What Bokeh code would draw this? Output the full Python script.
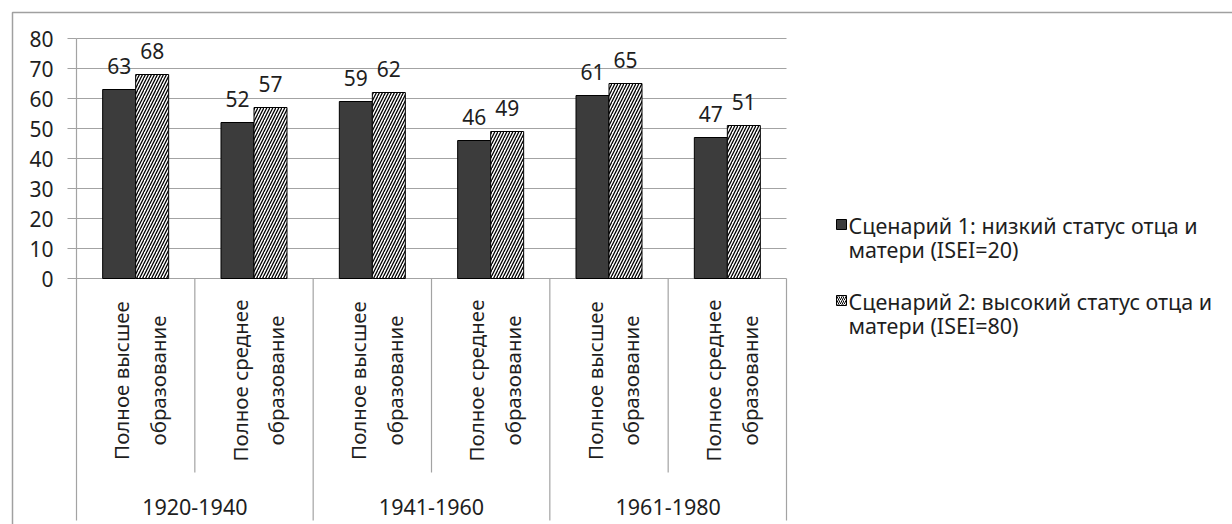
import math
from bokeh.plotting import figure
from bokeh.models import Range1d, LinearAxis, FixedTicker
from bokeh.core.properties import value
from bokeh.embed import file_html
from bokeh.resources import INLINE

# ---------------- data ----------------
groups = ["1920-1940", "1941-1960", "1961-1980"]
education = ["Полное высшее\nобразование", "Полное среднее\nобразование"]
scenario1 = [63, 52, 59, 46, 61, 47]
scenario2 = [68, 57, 62, 49, 65, 51]
series_names = ["Сценарий 1: низкий статус отца и\nматери (ISEI=20)",
                "Сценарий 2: высокий статус отца и\nматери (ISEI=80)"]
y_ticks = [0, 10, 20, 30, 40, 50, 60, 70, 80]

# ---------------- layout (pixels of the page) ----------------
W, H = 1232, 524
PAGE_X0, PAGE_Y0 = 0, 0
AXIS_X = 76          # page x of value axis
PLOT_RIGHT = 786     # page x of right end of plot area
ZERO_Y = 278         # page y of value 0
PX_PER_UNIT = 3.0    # pixels per value unit
n_cat = len(groups) * len(education)
CAT_W = (PLOT_RIGHT - AXIS_X) / n_cat

def dx(px):
    return (px - AXIS_X) / CAT_W

def dy(py):
    return (ZERO_Y - py) / PX_PER_UNIT

FONT = "Noto Sans"
TXT = "#1e1e1e"
GRID = "#a3a3a3"
DARK = "#3c3c3c"

p = figure(width=W, height=H, output_backend="svg", toolbar_location=None,
           x_range=Range1d(dx(PAGE_X0), dx(PAGE_X0 + W)),
           y_range=Range1d(dy(PAGE_Y0 + H), dy(PAGE_Y0)),
           x_axis_location=None, y_axis_location=None,
           min_border=0, outline_line_color=None)
p.xgrid.visible = False
p.ygrid.visible = False
p.background_fill_color = "white"
p.border_fill_color = "white"

# outer chart border (left and top visible)
p.line(x=[dx(12), dx(12), dx(PAGE_X0 + W + 10)],
       y=[dy(PAGE_Y0 + H + 10), dy(12), dy(12)],
       line_color="#a0a0a0", line_width=1.5)

# gridlines
top_val = max(y_ticks)
p.segment(x0=[0] * len(y_ticks), x1=[n_cat] * len(y_ticks), y0=y_ticks, y1=y_ticks,
          line_color=GRID, line_width=1.2)

# value axis line and category separators
p.segment(x0=[0], x1=[0], y0=[top_val], y1=[dy(520)], line_color=GRID, line_width=1.2)
sep_x = [i + 1 for i in range(n_cat)]
sep_bottom = [dy(520) if (i + 1) % len(education) == 0 else dy(472) for i in range(n_cat)]
p.segment(x0=sep_x, x1=sep_x, y0=[0] * n_cat, y1=sep_bottom, line_color=GRID, line_width=1.2)

# bars
BAR_W = 33 / CAT_W
centers = [i + 0.5 for i in range(n_cat)]
x1 = [c - BAR_W / 2 for c in centers]
x2 = [c + BAR_W / 2 for c in centers]
p.vbar(x=x1, top=scenario1, bottom=0, width=BAR_W, fill_color=DARK,
       line_color="black", line_width=1)
p.vbar(x=x2, top=scenario2, bottom=0, width=BAR_W, fill_color="white",
       hatch_pattern="/", hatch_color="black", hatch_scale=6, hatch_weight=1.3,
       line_color="black", line_width=1)

# data labels
p.text(x=x1, y=scenario1, text=[str(v) for v in scenario1], text_align="center",
       text_baseline="alphabetic", y_offset=-24, text_font=value(FONT),
       text_font_size="21px", text_color=TXT)
p.text(x=x2, y=scenario2, text=[str(v) for v in scenario2], text_align="center",
       text_baseline="alphabetic", y_offset=-24, text_font=value(FONT),
       text_font_size="21px", text_color=TXT)

# category labels (rotated)
cat_labels = [education[i % len(education)] for i in range(n_cat)]
p.text(x=[c + 4 / CAT_W for c in centers], y=[dy(380)] * n_cat, text=cat_labels,
       angle=math.pi / 2, text_align="center", text_baseline="middle",
       text_line_height=1.3, text_font=value(FONT), text_font_size="20.5px",
       text_color=TXT)

# group labels
g_centers = [len(education) * g + len(education) / 2 for g in range(len(groups))]
p.text(x=g_centers, y=[dy(506)] * len(groups), text=groups, text_align="center",
       text_baseline="middle", text_font=value(FONT), text_font_size="21.5px",
       text_color=TXT)

# value axis
yaxis = LinearAxis(fixed_location=0, ticker=FixedTicker(ticks=y_ticks))
yaxis.axis_line_color = None
yaxis.major_tick_line_color = GRID
yaxis.major_tick_line_width = 1.2
yaxis.major_tick_out = 9
yaxis.major_tick_in = 0
yaxis.minor_tick_line_color = None
yaxis.major_label_standoff = 14
yaxis.major_label_text_font = FONT
yaxis.major_label_text_font_size = "21px"
yaxis.major_label_text_color = TXT
p.add_layout(yaxis, "left")

# legend (drawn manually)
LEG_MARK_X = 841
LEG_TEXT_X = 848
leg_rows = [224, 300]
p.rect(x=[dx(LEG_MARK_X)], y=[dy(leg_rows[0])], width=10, height=10,
       width_units="screen", height_units="screen", fill_color=DARK, line_color="black")
p.rect(x=[dx(LEG_MARK_X)], y=[dy(leg_rows[1])], width=10, height=10,
       width_units="screen", height_units="screen", fill_color="white",
       hatch_pattern="/", hatch_color="black", hatch_scale=4, hatch_weight=1,
       line_color="black")
p.text(x=[dx(LEG_TEXT_X)] * 2, y=[dy(r - 14) for r in leg_rows], text=series_names,
       text_align="left", text_baseline="top", text_line_height=0.86,
       text_font=value(FONT), text_font_size="21.5px", text_color=TXT)

open("out.html", "w").write(file_html(p, INLINE))
